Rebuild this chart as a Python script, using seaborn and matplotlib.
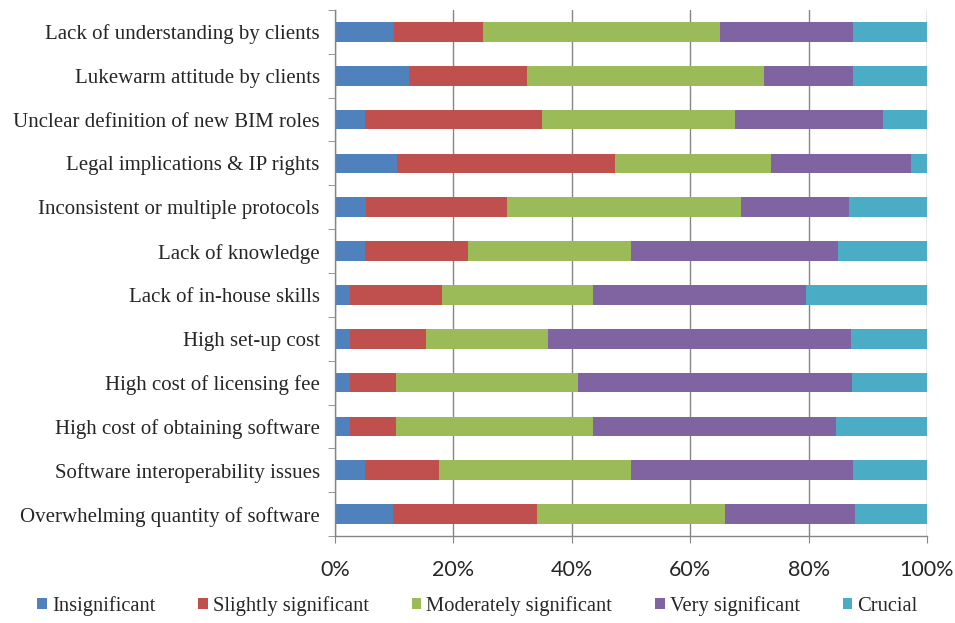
import pandas as pd
import seaborn as sns
import matplotlib.pyplot as plt
import numpy as np

# categories, top to bottom
barriers = [
    "Lack of understanding by clients",
    "Lukewarm attitude by clients",
    "Unclear definition of new BIM roles",
    "Legal implications & IP rights",
    "Inconsistent or multiple protocols",
    "Lack of knowledge",
    "Lack of in-house skills",
    "High set-up cost",
    "High cost of licensing fee",
    "High cost of obtaining software",
    "Software interoperability issues",
    "Overwhelming quantity of software",
]

# percent of responses per rating
insignificant = [10, 12.5, 5, 10.5, 5.3, 5, 2.6, 2.6, 2.6, 2.6, 5, 9.8]
slightly = [15, 20, 30, 36.8, 23.7, 17.5, 15.4, 12.8, 7.7, 7.7, 12.5, 24.4]
moderately = [40, 40, 32.5, 26.3, 39.5, 27.5, 25.6, 20.5, 30.8, 33.3, 32.5, 31.7]
very = [22.5, 15, 25, 23.7, 18.4, 35, 35.9, 51.3, 46.2, 41, 37.5, 21.9]
crucial = [12.5, 12.5, 7.5, 2.7, 13.1, 15, 20.5, 12.8, 12.7, 15.4, 12.5, 12.2]

series = ["Insignificant", "Slightly significant", "Moderately significant",
          "Very significant", "Crucial"]
colors = ["#4F81BD", "#C0504D", "#9BBB59", "#8064A2", "#4BACC6"]

df = pd.DataFrame({
    "barrier": barriers,
    "Insignificant": insignificant,
    "Slightly significant": slightly,
    "Moderately significant": moderately,
    "Very significant": very,
    "Crucial": crucial,
})
# normalise each row to 100% and stack
df[series] = df[series].div(df[series].sum(axis=1), axis=0) * 100
cum = df[series].cumsum(axis=1)

sns.set_style("white")
plt.rcParams['font.family'] = ['Liberation Serif', 'DejaVu Serif']

fig = plt.figure(figsize=(9.55, 6.23), dpi=100)
ax = fig.add_axes([0.3508, 0.1396, 0.6199, 0.8444])

# draw the widest cumulative bar first, then cover it with the shorter ones
for name, col in reversed(list(zip(series, colors))):
    sns.barplot(x=cum[name], y=df["barrier"], orient="h", color=col,
                width=0.45, ax=ax, label=name, saturation=1, linewidth=0)

ax.set_xlim(0, 100)
ax.set_ylim(len(barriers) - 0.5, -0.5)
ax.set_xticks([0, 20, 40, 60, 80, 100])
ax.set_xticklabels([f"{v}%" for v in range(0, 101, 20)],
                   family=['Lato', 'DejaVu Sans'], fontsize=15.5, color="#262626")
ax.set_xlabel("")
ax.set_ylabel("")
ax.tick_params(axis="y", length=0, labelsize=15, pad=11, labelcolor="#262626")
ax.set_yticks(np.arange(-0.5, len(barriers), 1), minor=True)
ax.tick_params(axis="y", which="minor", length=5, color="#868686", direction="out", left=True)
ax.tick_params(axis="x", length=5, color="#868686", direction="out", bottom=True, pad=12)

ax.grid(axis="x", color="#868686", linewidth=1)
ax.set_axisbelow(True)
for s in ["top", "right"]:
    ax.spines[s].set_visible(False)
for s in ["left", "bottom"]:
    ax.spines[s].set_color("#868686")
    ax.spines[s].set_linewidth(1)

handles, labels = ax.get_legend_handles_labels()
order = [labels.index(s) for s in series]
leg = ax.legend([handles[i] for i in order], series, loc="center", ncol=5,
                bbox_to_anchor=(0.5, 0.027), bbox_transform=fig.transFigure,
                frameon=False, fontsize=14.8, handlelength=0.45, handleheight=0.45,
                handletextpad=0.25, columnspacing=2.1)
for t in leg.get_texts():
    t.set_color("#262626")

plt.savefig("out.png", dpi=100)
plt.close()
